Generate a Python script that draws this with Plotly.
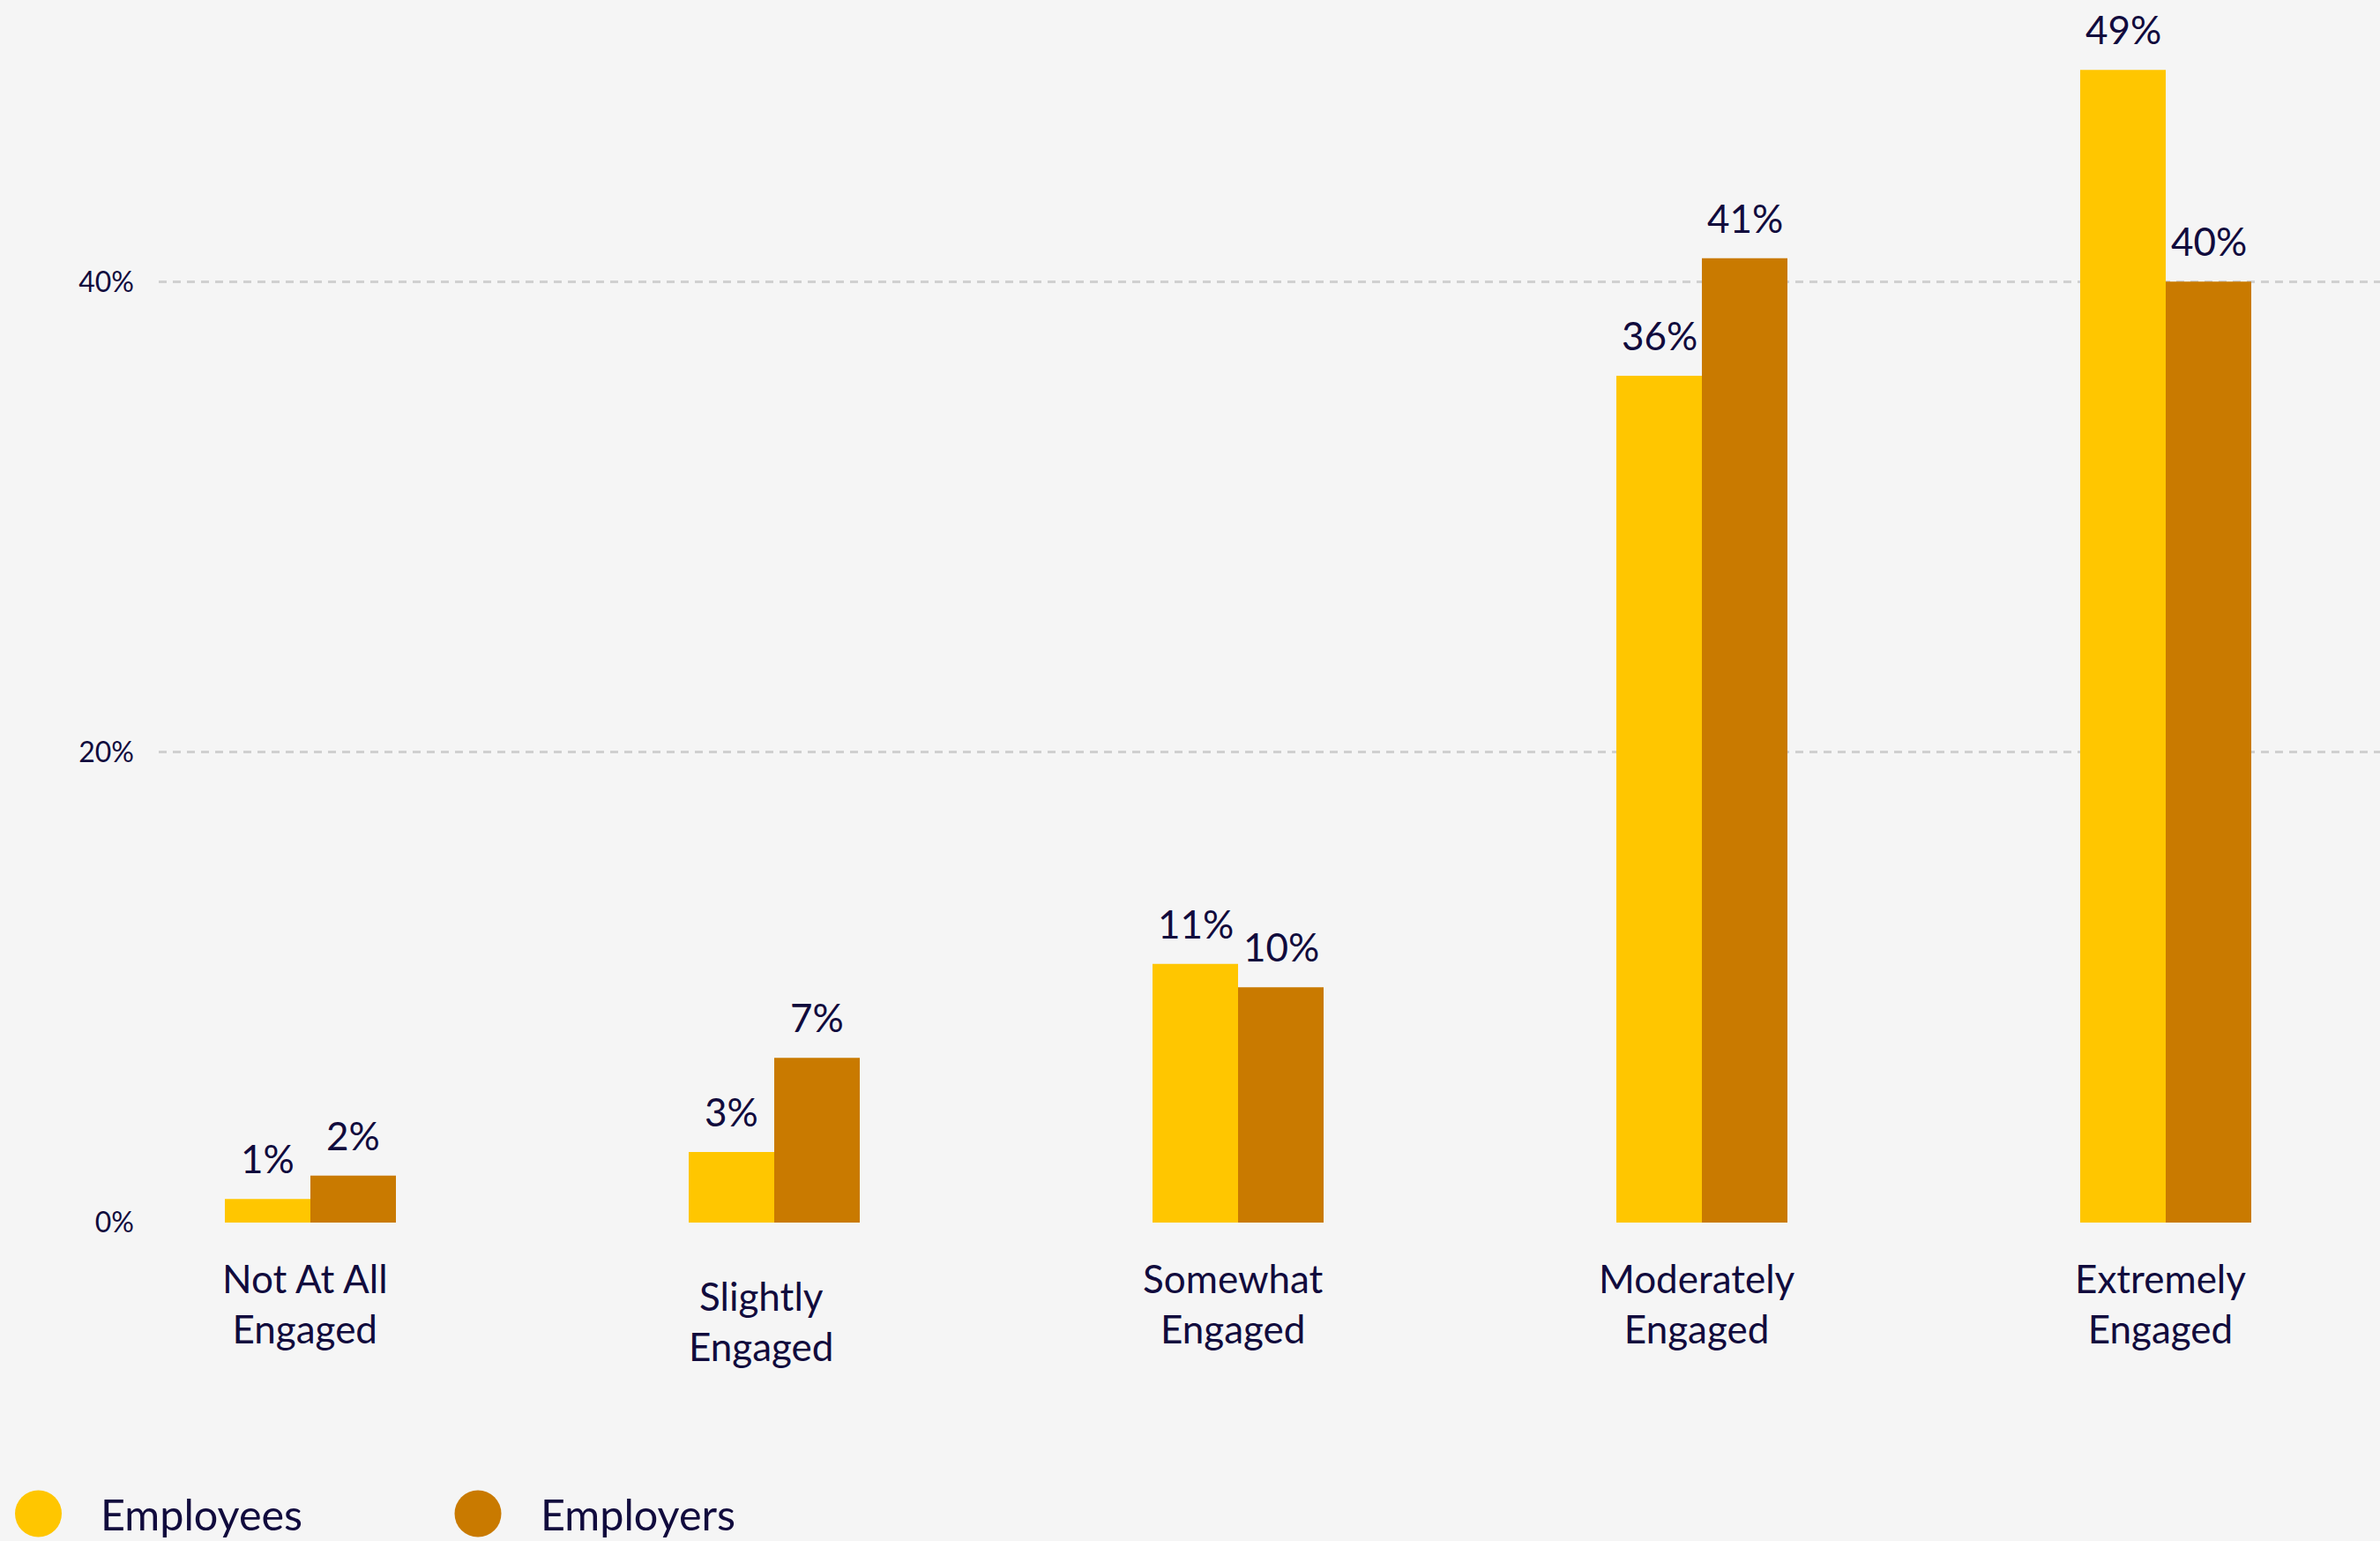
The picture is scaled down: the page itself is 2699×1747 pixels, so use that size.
import plotly.graph_objects as go

# Survey: how engaged people feel, employees vs employers (share of respondents, %)
categories = ["Not At All Engaged", "Slightly Engaged", "Somewhat Engaged",
              "Moderately Engaged", "Extremely Engaged"]
category_lines = ["Not At All<br>Engaged", "Slightly<br>Engaged", "Somewhat<br>Engaged",
                  "Moderately<br>Engaged", "Extremely<br>Engaged"]
employees = [1, 3, 11, 36, 49]
employers = [2, 7, 10, 41, 40]
series_names = ["Employees", "Employers"]
y_ticks = [0, 20, 40]

COLORS = ["#FFC600", "#C97A00"]
TEXT = "#110B3D"
BG = "#F5F5F5"
FONT = "Lato, 'Open Sans', sans-serif"

W, H = 2699, 1747
M_L, M_R, M_T, M_B = 180, 0, 0, 361
BAR_PX = 97          # width of one bar in pixels
CAT_PX = 526         # distance between category centres in pixels

fig = go.Figure()
for name, vals, col in zip(series_names, [employees, employers], COLORS):
    fig.add_trace(go.Bar(
        x=list(range(len(categories))), y=vals, name=name,
        marker=dict(color=col, line=dict(width=0)),
        showlegend=False, hoverinfo="skip",
    ))

annotations = []
# value labels above each bar
for s, vals in enumerate([employees, employers]):
    shift = (-0.5 if s == 0 else 0.5) * BAR_PX
    for i, v in enumerate(vals):
        annotations.append(dict(
            x=i, y=v, xref="x", yref="y", text=f"{v}%", showarrow=False,
            xanchor="center", yanchor="bottom", xshift=shift, yshift=18,
            font=dict(family=FONT, size=44, color=TEXT),
        ))

# category labels under the baseline
label_nudge = {"Slightly Engaged": (-9, -20)}
for i, (cat, txt) in enumerate(zip(categories, category_lines)):
    dx, dy = label_nudge.get(cat, (0, 0))
    annotations.append(dict(
        x=i, y=0, xref="x", yref="paper", text=txt, showarrow=False,
        xanchor="center", yanchor="top", xshift=-6 + dx, yshift=-35 + dy,
        align="center", font=dict(family=FONT, size=44, color=TEXT),
    ))

# legend: round swatches with series names along the bottom edge
plot_w = W - M_L - M_R
plot_h = H - M_T - M_B
leg_y = -(1716 - plot_h) / plot_h
shapes = []
for k, (name, col) in enumerate(zip(series_names, COLORS)):
    cx = (43.5 + k * 498.5 - M_L) / plot_w
    tx = (112 + k * 498.5 - M_L) / plot_w
    shapes.append(dict(
        type="circle", xref="paper", yref="paper",
        xsizemode="pixel", ysizemode="pixel",
        xanchor=cx, yanchor=leg_y, x0=-26.5, x1=26.5, y0=-26.5, y1=26.5,
        fillcolor=col, line=dict(width=0), layer="above",
    ))
    annotations.append(dict(
        x=tx, y=leg_y, xref="paper", yref="paper", text=name, showarrow=False,
        xanchor="left", yanchor="middle",
        font=dict(family=FONT, size=48.5, color=TEXT),
    ))

x_lo = -(352 - M_L) / CAT_PX
x_hi = x_lo + plot_w / CAT_PX
y_top = plot_h / ((1386 - 319.3) / 40)

fig.update_layout(
    width=W, height=H,
    margin=dict(l=M_L, r=M_R, t=M_T, b=M_B, pad=0),
    paper_bgcolor=BG, plot_bgcolor=BG,
    barmode="group", bargap=1 - 2 * BAR_PX / CAT_PX, bargroupgap=0,
    font=dict(family=FONT, color=TEXT),
    xaxis=dict(range=[x_lo, x_hi], showticklabels=False, showgrid=False,
               zeroline=False, showline=False, ticks=""),
    yaxis=dict(range=[0, y_top], tickvals=y_ticks,
               ticktext=[f"{t}%" for t in y_ticks],
               tickfont=dict(family=FONT, size=32, color=TEXT),
               ticklabelstandoff=27,
               showgrid=True, gridcolor="#D0D0D0", gridwidth=3, griddash="9px,7px",
               zeroline=False, showline=False, ticks=""),
    annotations=annotations, shapes=shapes,
)

fig.write_html("out.html")
